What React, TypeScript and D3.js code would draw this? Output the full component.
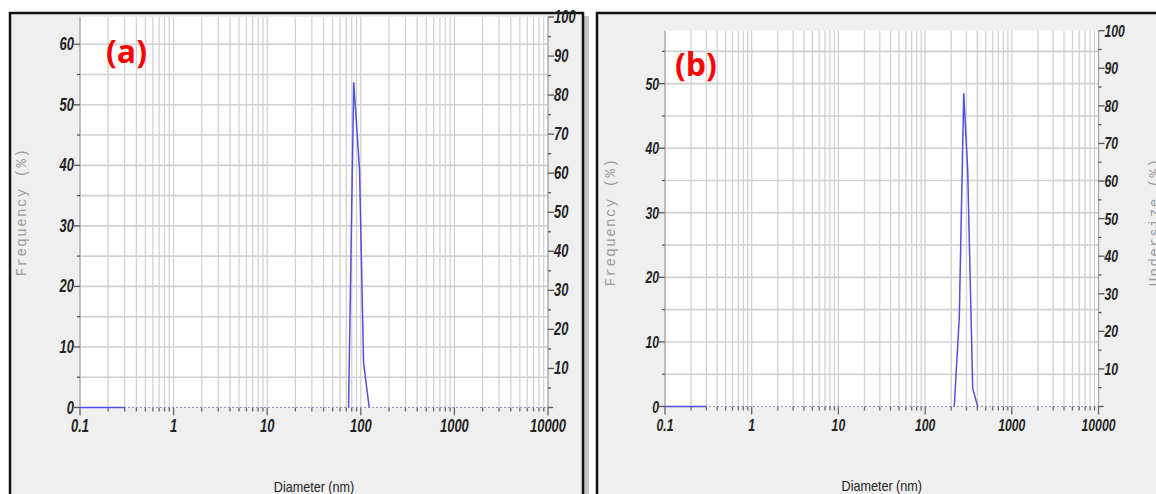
import { useEffect, useRef } from "react";
import * as d3 from "d3";

// size distribution values
const DIAMETER_A = [74, 84, 97, 107, 123];
const FREQ_A = [0, 53.7, 39.3, 7.4, 0];
const DIAMETER_B = [217, 248, 279, 310, 354, 404];
const FREQ_B = [0, 13.9, 48.5, 36.6, 2.8, 0];

// solid part of the zero baseline at the left end
const BASE_SOLID = [0.1, 0.3];

const X_TICKS = [0.1, 1, 10, 100, 1000, 10000];
const X_TICK_LABELS = ["0.1", "1", "10", "100", "1000", "10000"];
const LEFT_TICKS_A = [0, 10, 20, 30, 40, 50, 60];
const LEFT_TICKS_B = [0, 10, 20, 30, 40, 50];
const RIGHT_TICKS = [10, 20, 30, 40, 50, 60, 70, 80, 90, 100];

const LINE_COLOR = "#4f4fe0";
const TICK_FONT = "'Liberation Sans', Arial, sans-serif";

interface PanelSpec {
  tag: string;
  diameters: number[];
  freqs: number[];
  leftTicks: number[];
  yMax: number;
  frame: { x: number; y: number; w: number; h: number };
  plot: { left: number; right: number; top: number; bottom: number };
  tagPos: [number, number];
  freqLabelPos: [number, number];
  undersizePos?: [number, number];
  xLabelY: number;
  titleY: number;
  fontSize: number;
}

const PANELS: PanelSpec[] = [
  {
    tag: "(a)",
    diameters: DIAMETER_A,
    freqs: FREQ_A,
    leftTicks: LEFT_TICKS_A,
    yMax: 64.5,
    frame: { x: 10, y: 13, w: 573, h: 500 },
    plot: { left: 80, right: 548, top: 17, bottom: 407.5 },
    tagPos: [106, 63],
    freqLabelPos: [26, 212],
    xLabelY: 432,
    titleY: 492,
    fontSize: 17.5,
  },
  {
    tag: "(b)",
    diameters: DIAMETER_B,
    freqs: FREQ_B,
    leftTicks: LEFT_TICKS_B,
    yMax: 58.2,
    frame: { x: 597, y: 13, w: 600, h: 500 },
    plot: { left: 665, right: 1098.5, top: 30.7, bottom: 406.5 },
    tagPos: [675, 76],
    freqLabelPos: [615, 222],
    undersizePos: [1159, 222],
    xLabelY: 431,
    titleY: 491,
    fontSize: 16.5,
  },
];

function drawPanel(svg: d3.Selection<SVGSVGElement, unknown, null, undefined>, p: PanelSpec) {
  const g = svg.append("g");
  const { left, right, top, bottom } = p.plot;

  // frame + shadow
  g.append("rect")
    .attr("x", p.frame.x + p.frame.w + 1)
    .attr("y", p.frame.y + 3)
    .attr("width", 5)
    .attr("height", p.frame.h)
    .attr("fill", "#c4c4c4");
  g.append("rect")
    .attr("x", p.frame.x)
    .attr("y", p.frame.y)
    .attr("width", p.frame.w)
    .attr("height", p.frame.h)
    .attr("fill", "#efefef")
    .attr("stroke", "#111")
    .attr("stroke-width", 2.5);

  const x = d3.scaleLog().domain([0.1, 10000]).range([left, right]);
  const y = d3.scaleLinear().domain([0, p.yMax]).range([bottom, top]);
  const yRight = d3.scaleLinear().domain([0, 100]).range([bottom, top]);

  g.append("rect")
    .attr("x", left)
    .attr("y", top)
    .attr("width", right - left)
    .attr("height", bottom - top)
    .attr("fill", "#fff");

  // vertical grid at 1..9 x each decade
  const minor: number[] = [];
  for (let e = -1; e <= 3; e++) {
    for (let k = 1; k <= 9; k++) minor.push(k * Math.pow(10, e));
  }
  minor.push(10000);
  minor.forEach((v) => {
    g.append("line")
      .attr("x1", x(v))
      .attr("x2", x(v))
      .attr("y1", top)
      .attr("y2", bottom)
      .attr("stroke", "#d2d2d2")
      .attr("stroke-width", 1.3);
  });

  // horizontal grid every 5 units
  const hLines = d3.range(5, p.yMax, 5);
  hLines.forEach((v) => {
    g.append("line")
      .attr("x1", left)
      .attr("x2", right)
      .attr("y1", y(v))
      .attr("y2", y(v))
      .attr("stroke", "#d0d0d0")
      .attr("stroke-width", 1.6);
  });

  // axis lines
  g.append("line")
    .attr("x1", left)
    .attr("x2", left)
    .attr("y1", top)
    .attr("y2", bottom)
    .attr("stroke", "#a8a8a8")
    .attr("stroke-width", 1.2);
  g.append("line")
    .attr("x1", right)
    .attr("x2", right)
    .attr("y1", top)
    .attr("y2", bottom + 1)
    .attr("stroke", "#a8a8a8")
    .attr("stroke-width", 1.2);

  // left ticks + labels
  d3.range(0, p.yMax, 5).forEach((v) => {
    const major = v % 10 === 0;
    g.append("line")
      .attr("x1", left - (major ? 6 : 3))
      .attr("x2", left)
      .attr("y1", y(v))
      .attr("y2", y(v))
      .attr("stroke", "#555")
      .attr("stroke-width", 1.3);
  });
  p.leftTicks.forEach((v) => {
    g.append("text")
      .attr("transform", `translate(${left - 6},${y(v) + 6}) scale(0.74,1)`)
      .attr("text-anchor", "end")
      .attr("font-family", TICK_FONT)
      .attr("font-weight", "bold")
      .attr("font-style", "italic")
      .attr("font-size", p.fontSize)
      .attr("fill", "#222")
      .text(v);
  });

  // right ticks + labels
  d3.range(5, 100, 5).forEach((v) => {
    const major = v % 10 === 0;
    g.append("line")
      .attr("x1", right)
      .attr("x2", right + (major ? 6 : 3))
      .attr("y1", yRight(v))
      .attr("y2", yRight(v))
      .attr("stroke", "#555")
      .attr("stroke-width", 1.3);
  });
  g.append("line")
    .attr("x1", right)
    .attr("x2", right + 6)
    .attr("y1", yRight(100))
    .attr("y2", yRight(100))
    .attr("stroke", "#555")
    .attr("stroke-width", 1.3);
  g.append("line")
    .attr("x1", right)
    .attr("x2", right + 5)
    .attr("y1", bottom)
    .attr("y2", bottom)
    .attr("stroke", "#555")
    .attr("stroke-width", 1.3);
  RIGHT_TICKS.forEach((v) => {
    g.append("text")
      .attr("transform", `translate(${right + 6},${yRight(v) + 6}) scale(0.74,1)`)
      .attr("text-anchor", "start")
      .attr("font-family", TICK_FONT)
      .attr("font-weight", "bold")
      .attr("font-style", "italic")
      .attr("font-size", p.fontSize)
      .attr("fill", "#222")
      .text(v);
  });

  // bottom ticks + labels
  minor.forEach((v) => {
    const major = X_TICKS.includes(v);
    g.append("line")
      .attr("x1", x(v))
      .attr("x2", x(v))
      .attr("y1", bottom)
      .attr("y2", bottom + (major ? 8 : 4))
      .attr("stroke", "#666")
      .attr("stroke-width", 1.3);
  });
  X_TICKS.forEach((v, i) => {
    g.append("text")
      .attr("transform", `translate(${x(v)},${p.xLabelY}) scale(0.74,1)`)
      .attr("text-anchor", "middle")
      .attr("font-family", TICK_FONT)
      .attr("font-weight", "bold")
      .attr("font-style", "italic")
      .attr("font-size", p.fontSize)
      .attr("fill", "#222")
      .text(X_TICK_LABELS[i]);
  });

  // zero baseline: dotted across, solid at the start
  g.append("line")
    .attr("x1", left)
    .attr("x2", right)
    .attr("y1", y(0))
    .attr("y2", y(0))
    .attr("stroke", "#8f8fd0")
    .attr("stroke-width", 1.2)
    .attr("stroke-dasharray", "2,2");
  g.append("line")
    .attr("x1", x(BASE_SOLID[0]))
    .attr("x2", x(BASE_SOLID[1]))
    .attr("y1", y(0))
    .attr("y2", y(0))
    .attr("stroke", LINE_COLOR)
    .attr("stroke-width", 1.5);

  // distribution curve
  const line = d3
    .line<number>()
    .x((_, i) => x(p.diameters[i]))
    .y((d) => y(d));
  g.append("path")
    .attr("d", line(p.freqs))
    .attr("fill", "none")
    .attr("stroke", LINE_COLOR)
    .attr("stroke-width", 1.5);

  // panel tag
  g.append("text")
    .attr("x", p.tagPos[0])
    .attr("y", p.tagPos[1])
    .attr("font-family", "'Open Sans', sans-serif")
    .attr("font-weight", "bold")
    .attr("font-size", 32)
    .attr("fill", "#ff0000")
    .text(p.tag);

  // axis titles
  g.append("text")
    .attr("transform", `translate(${p.freqLabelPos[0]},${p.freqLabelPos[1]}) rotate(-90)`)
    .attr("text-anchor", "middle")
    .attr("font-family", "'Liberation Mono', monospace")
    .attr("font-size", 14)
    .attr("letter-spacing", 1.5)
    .attr("fill", "#9a9a9a")
    .text("Frequency (%)");

  if (p.undersizePos) {
    // cut by the picture edge, as in the source
    g.append("text")
      .attr("transform", `translate(${p.undersizePos[0]},${p.undersizePos[1]}) rotate(-90)`)
      .attr("text-anchor", "middle")
      .attr("font-family", "'Liberation Mono', monospace")
      .attr("font-size", 14)
      .attr("letter-spacing", 1.5)
      .attr("fill", "#9a9a9a")
      .text("Undersize (%)");
  }

  g.append("text")
    .attr("transform", `translate(${(left + right) / 2},${p.titleY}) scale(0.9,1)`)
    .attr("text-anchor", "middle")
    .attr("font-family", TICK_FONT)
    .attr("font-size", 14)
    .attr("fill", "#222")
    .text("Diameter (nm)");
}

export default function App() {
  const svgRef = useRef<SVGSVGElement>(null);

  useEffect(() => {
    if (!svgRef.current) return;
    const svg = d3.select(svgRef.current);
    svg.selectAll("*").remove();
    svg.append("rect").attr("width", 1156).attr("height", 494).attr("fill", "#fff");
    PANELS.forEach((p) => drawPanel(svg, p));
  }, []);

  return (
    <svg
      ref={svgRef}
      width={1156}
      height={494}
      style={{ position: "fixed", left: 0, top: 0, display: "block" }}
    />
  );
}
